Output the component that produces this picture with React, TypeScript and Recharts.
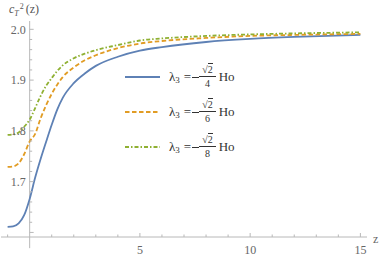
import React from 'react';
import { LineChart, Line, XAxis, YAxis, ReferenceLine, Legend } from 'recharts';

// ---- data ----
const zValues = [-1, -0.75, -0.5, -0.25, 0, 0.25, 0.5, 0.75, 1, 1.25, 1.5, 2, 2.5, 3, 4, 5, 6, 8, 10, 12, 15];
const seriesQuarter = [1.611, 1.612, 1.618, 1.634, 1.666, 1.708, 1.745, 1.779, 1.812, 1.842, 1.865, 1.894, 1.913, 1.928, 1.946, 1.958, 1.965, 1.975, 1.981, 1.985, 1.989];
const seriesSixth = [1.729, 1.730, 1.736, 1.754, 1.779, 1.794, 1.825, 1.851, 1.873, 1.891, 1.906, 1.925, 1.939, 1.949, 1.963, 1.972, 1.977, 1.983, 1.987, 1.989, 1.991];
const seriesEighth = [1.792, 1.793, 1.797, 1.808, 1.822, 1.845, 1.869, 1.889, 1.904, 1.918, 1.929, 1.943, 1.952, 1.959, 1.969, 1.978, 1.982, 1.987, 1.990, 1.992, 1.994];

const seriesKeys = ['quarter', 'sixth', 'eighth'];
const seriesDenominators = ['4', '6', '8'];
const seriesColors = ['#5e81b5', '#e19c24', '#8fb032'];
const seriesDashes = ['', '4.5 2.5', '4 2 1.5 2'];

const xTicks = [-1, 1, 2, 3, 4, 5, 6, 7, 8, 9, 10, 11, 12, 13, 14, 15];
const xTickLabels = [5, 10, 15];
const yTicks = [1.6, 1.62, 1.64, 1.66, 1.68, 1.7, 1.72, 1.74, 1.76, 1.78, 1.8, 1.82, 1.84, 1.86, 1.88, 1.9, 1.92, 1.94, 1.96, 1.98, 2.0];
const yTickLabels = [1.7, 1.8, 1.9, 2.0];
const yMajorTicks = [1.6, 1.7, 1.8, 1.9, 2.0];

const xDomain = [-1.3, 15.3];
const yDomain = [1.591, 2.0164];

const rows = zValues.map((z, i) => ({
  z,
  quarter: seriesQuarter[i],
  sixth: seriesSixth[i],
  eighth: seriesEighth[i],
}));

// ---- layout ----
const W = 382;
const H = 257;
const yAxisWidth = 1;
const margin = { top: 21, right: 15, bottom: 0, left: 0 };
const xAxisHeight = 20;
const plotLeft = margin.left + yAxisWidth;
const plotWidth = W - plotLeft - margin.right;
const zeroX = plotLeft + ((0 - xDomain[0]) / (xDomain[1] - xDomain[0])) * plotWidth;

const axisColor = '#b8b8b8';
const labelColor = '#666';
const serif = 'Liberation Serif, DejaVu Serif, serif';

const near = (a: number, list: number[]) => list.some((b) => Math.abs(a - b) < 1e-6);

const XTick = (props: any) => {
  const { x, y, payload } = props;
  const v = payload.value;
  const major = near(v, xTickLabels);
  return (
    <g>
      <line x1={x} x2={x} y1={y} y2={y - (major ? 4 : 2.5)} stroke={axisColor} strokeWidth={1} />
      {major && (
        <text x={x} y={y + 13} dy="0.35em" textAnchor="middle" fill={labelColor} fontSize={12} fontFamily={serif}>
          {v}
        </text>
      )}
    </g>
  );
};

const YTick = (props: any) => {
  const { y, payload } = props;
  const v = payload.value;
  const major = near(v, yMajorTicks);
  const labelled = near(v, yTickLabels);
  return (
    <g>
      <line x1={zeroX} x2={zeroX + (major ? 4 : 2.5)} y1={y} y2={y} stroke={axisColor} strokeWidth={1} />
      {labelled && (
        <text x={zeroX - 4} y={y} dy="0.35em" textAnchor="end" fill={labelColor} fontSize={12} fontFamily={serif}>
          {v.toFixed(1)}
        </text>
      )}
    </g>
  );
};

const Fraction = ({ den }: { den: string }) => (
  <span
    style={{
      display: 'inline-flex',
      flexDirection: 'column',
      alignItems: 'center',
      verticalAlign: 'middle',
      fontSize: 10,
      lineHeight: '10px',
    }}
  >
    <span style={{ padding: '0 3px 1px 3px' }}>
      √<span style={{ borderTop: '0.8px solid #333' }}>2</span>
    </span>
    <span style={{ borderTop: '0.8px solid #333', alignSelf: 'stretch', textAlign: 'center', paddingTop: 2 }}>{den}</span>
  </span>
);

const LegendContent = () => (
  <div style={{ fontFamily: serif, color: '#333' }}>
    {seriesKeys.map((k, i) => (
      <div key={k} style={{ display: 'flex', alignItems: 'center', height: 35 }}>
        <svg width={36} height={6} style={{ display: 'block' }}>
          <line
            x1={0}
            y1={3}
            x2={35}
            y2={3}
            stroke={seriesColors[i]}
            strokeWidth={2}
            strokeDasharray={seriesDashes[i] || undefined}
          />
        </svg>
        <span style={{ marginLeft: 8, fontSize: 13, whiteSpace: 'nowrap', display: 'inline-flex', alignItems: 'center' }}>
          <span>λ</span>
          <span style={{ fontSize: 9, position: 'relative', top: 3 }}>3</span>
          <span style={{ marginLeft: 4 }}>=</span>
          <span style={{ borderBottom: '0.9px solid #333', width: 7, height: 0, marginLeft: 1, position: 'relative', top: 0.5 }} />
          <Fraction den={seriesDenominators[i]} />
          <span style={{ marginLeft: 3 }}>Ho</span>
        </span>
      </div>
    ))}
  </div>
);

export default function App() {
  return (
    <div style={{ position: 'absolute', left: 0, top: 0, width: W, height: H, background: '#fff' }}>
      <LineChart width={W} height={H} data={rows} margin={margin}>
        <XAxis
          dataKey="z"
          type="number"
          domain={xDomain}
          allowDataOverflow
          ticks={xTicks}
          interval={0}
          height={xAxisHeight}
          tickSize={0}
          tickMargin={0}
          tickLine={false}
          axisLine={{ stroke: axisColor, strokeWidth: 1 }}
          tick={<XTick />}
          label={{ value: 'z', position: 'right', dx: 1, dy: -8, fill: labelColor, fontSize: 12, fontFamily: serif }}
        />
        <YAxis
          type="number"
          domain={yDomain}
          allowDataOverflow
          ticks={yTicks}
          interval={0}
          width={yAxisWidth}
          tickSize={0}
          tickMargin={0}
          tickLine={false}
          axisLine={false}
          tick={<YTick />}
        />
        <ReferenceLine
          segment={[
            { x: 0, y: 1.569 },
            { x: 0, y: yDomain[1] },
          ]}
          stroke={axisColor}
          strokeWidth={1}
          ifOverflow="visible"
        />
        <Legend
          layout="vertical"
          align="center"
          verticalAlign="middle"
          content={<LegendContent />}
          wrapperStyle={{ left: 125, top: 59, width: 200, height: 105 }}
        />
        {seriesKeys.map((k, i) => (
          <Line
            key={k}
            dataKey={k}
            type="monotone"
            stroke={seriesColors[i]}
            strokeWidth={1.8}
            strokeDasharray={seriesDashes[i] || undefined}
            dot={false}
            activeDot={false}
            isAnimationActive={false}
          />
        ))}
      </LineChart>
      <div
        style={{
          position: 'absolute',
          left: 9,
          top: 2,
          fontFamily: serif,
          fontSize: 12,
          color: '#555',
          whiteSpace: 'nowrap',
          lineHeight: '14px',
        }}
      >
        <span style={{ fontStyle: 'italic' }}>c</span>
        <span style={{ fontSize: 8, fontStyle: 'italic', position: 'relative', top: 3 }}>T</span>
        <span style={{ fontSize: 8, position: 'relative', top: -4, marginLeft: 1 }}>2</span>
        <span style={{ marginLeft: 2 }}>(z)</span>
      </div>
    </div>
  );
}
